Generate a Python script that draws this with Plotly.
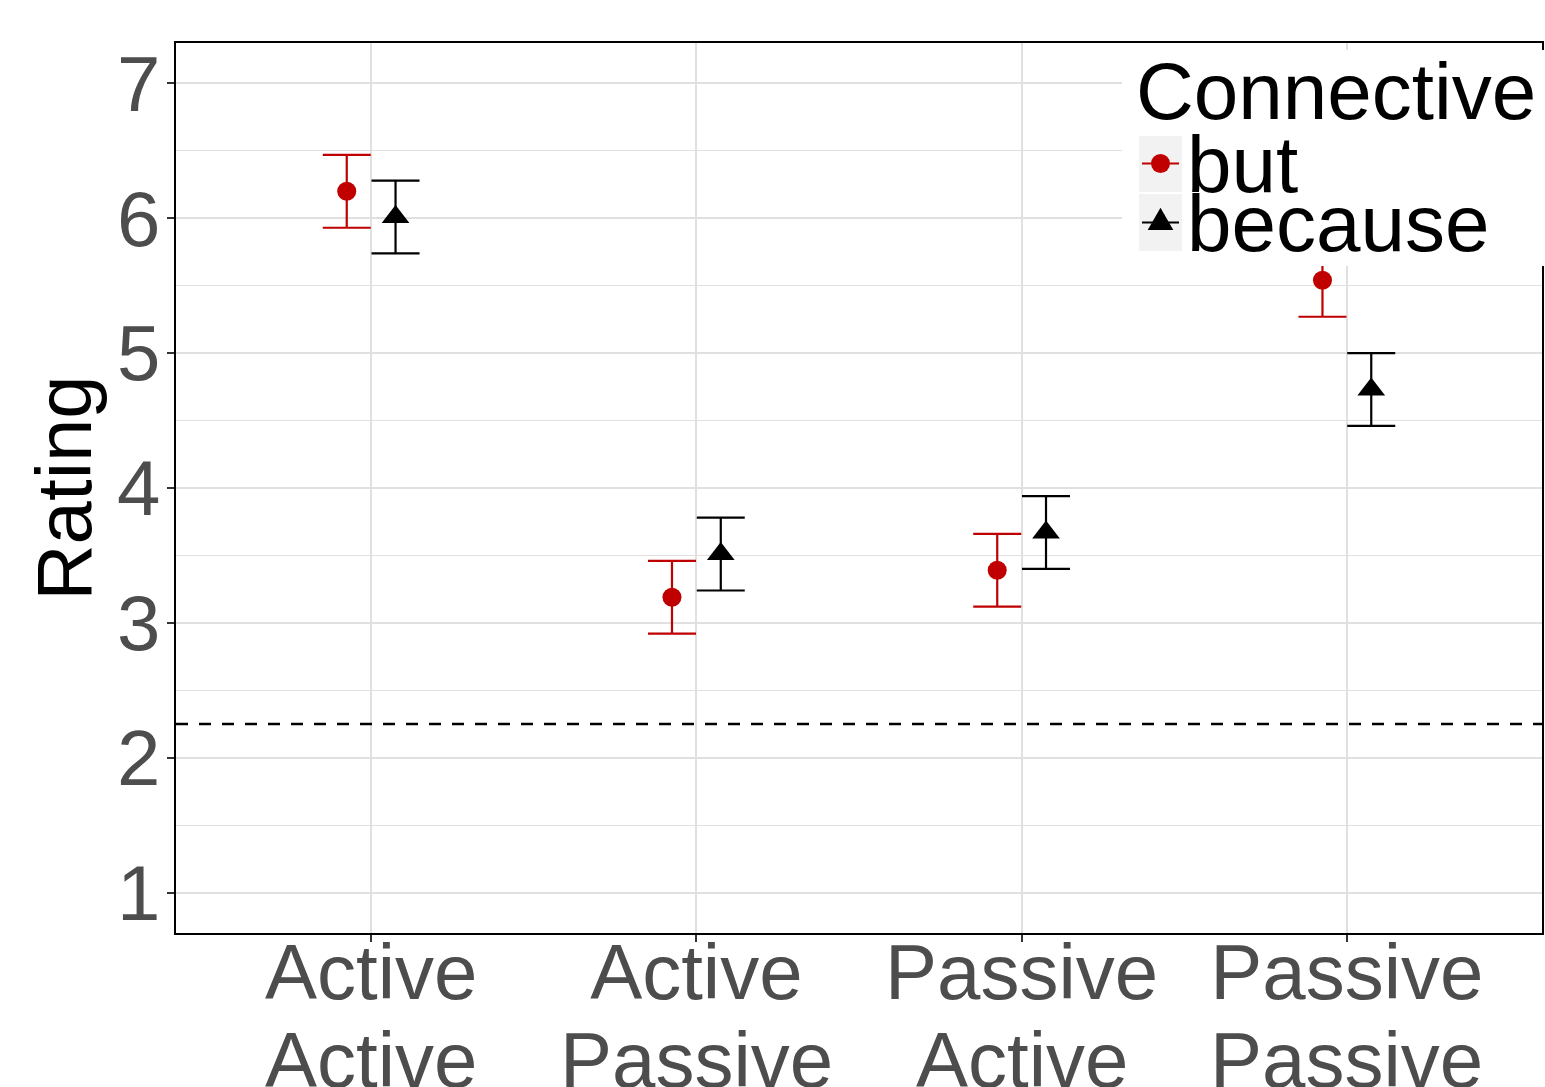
import plotly.graph_objects as go

# ---------------- data ----------------
cat_top = ["Active", "Active", "Passive", "Passive"]
cat_bottom = ["Active", "Passive", "Active", "Passive"]
categories = [f"{a} {b}" for a, b in zip(cat_top, cat_bottom)]

connectives = ["but", "because"]
but_mean = [6.20, 3.19, 3.39, 5.54]
but_ci = [0.27, 0.27, 0.27, 0.27]
because_mean = [6.01, 3.51, 3.67, 4.73]
because_ci = [0.27, 0.27, 0.27, 0.27]

y_ticks = [1, 2, 3, 4, 5, 6, 7]
y_range = [0.7, 7.3]
chance_level = 2.25
y_title = "Rating"
legend_title = "Connective"

# ---------------- style ----------------
W, H = 1545, 1087
ML, MR, MT, MB = 176, 3, 43, 154
PW, PH = W - ML - MR, H - MT - MB
FONT = "Liberation Sans, Arial, Helvetica, sans-serif"
RED = "#C00000"
BLACK = "#000000"
TICK_GREY = "#4D4D4D"
GRID = "#E0E0E0"
FS = 78
FS_LEG = 80


def px(xp):
    return (xp - ML) / PW


def py(yp):
    return (MT + PH - yp) / PH


fig = go.Figure()

series = [
    (connectives[0], but_mean, but_ci, RED, "circle", 19),
    (connectives[1], because_mean, because_ci, BLACK, "triangle-up", 24),
]
for name, mean, ci, col, sym, size in series:
    fig.add_trace(go.Scatter(
        x=categories, y=mean, name=name, mode="markers",
        marker=dict(symbol=sym, size=size, color=col, line=dict(width=0)),
        error_y=dict(type="data", array=ci, color=col, thickness=2.2, width=24),
        showlegend=False, cliponaxis=False,
    ))

shapes = [
    dict(type="line", xref="paper", x0=0, x1=1, yref="y",
         y0=chance_level, y1=chance_level,
         line=dict(color="black", width=2.5, dash="12px,11px"), layer="above"),
]

# ---- manual legend (ggplot-style, inside top-right) ----
shapes.append(dict(type="rect", xref="paper", yref="paper",
                   x0=px(1122), x1=px(1550), y0=py(50), y1=py(266),
                   fillcolor="white", line=dict(width=0), layer="above"))
key_rows = [(136, 192, 163.5), (194, 251, 222.5)]
for (ytop, ybot, yc), (name, _, _, col, sym, _) in zip(key_rows, series):
    shapes.append(dict(type="rect", xref="paper", yref="paper",
                       x0=px(1139), x1=px(1182), y0=py(ybot), y1=py(ytop),
                       fillcolor="#F2F2F2", line=dict(width=0), layer="above"))
    shapes.append(dict(type="line", xref="paper", yref="paper",
                       x0=px(1142), x1=px(1179), y0=py(yc), y1=py(yc),
                       line=dict(color=col, width=2.2), layer="above"))
    if sym == "circle":
        r = 9.5
        shapes.append(dict(type="circle", xref="paper", yref="paper",
                           x0=px(1160.5 - r), x1=px(1160.5 + r),
                           y0=py(yc + r), y1=py(yc - r),
                           fillcolor=col, line=dict(width=0), layer="above"))
    else:
        cx = 1160.5
        path = (f"M{px(cx - 12.8)},{py(yc + 7.4)} L{px(cx + 12.8)},{py(yc + 7.4)} "
                f"L{px(cx)},{py(yc - 14.8)} Z")
        shapes.append(dict(type="path", xref="paper", yref="paper", path=path,
                           fillcolor=col, line=dict(width=0), layer="above"))

annotations = [
    dict(text=legend_title, xref="paper", yref="paper", x=px(1134), y=py(91),
         xanchor="left", yanchor="middle", showarrow=False,
         font=dict(family=FONT, size=FS_LEG, color="black")),
]
for (ytop, ybot, yc), name in zip(key_rows, connectives):
    annotations.append(dict(text=name, xref="paper", yref="paper", x=px(1185),
                            y=py(yc + 0.5), xanchor="left", yanchor="middle",
                            showarrow=False,
                            font=dict(family=FONT, size=FS_LEG, color="black")))

# second line of the x tick labels
for c, b in zip(categories, cat_bottom):
    annotations.append(dict(text=b, xref="x", yref="paper", x=c, y=py(1060),
                            xanchor="center", yanchor="middle", showarrow=False,
                            font=dict(family=FONT, size=FS, color=TICK_GREY)))

axis_common = dict(
    showline=True, mirror=True, linecolor="black", linewidth=2,
    ticks="outside", ticklen=7, tickwidth=2, tickcolor="#333333",
    showgrid=True, gridcolor=GRID, gridwidth=1.5, zeroline=False,
    tickfont=dict(family=FONT, size=FS, color=TICK_GREY),
)

fig.update_layout(
    width=W, height=H,
    margin=dict(l=ML, r=MR, t=MT, b=MB, autoexpand=False),
    paper_bgcolor="white", plot_bgcolor="white",
    scattermode="group", scattergap=0.7,
    xaxis=dict(type="category", categoryorder="array", categoryarray=categories,
               range=[-0.6, len(categories) - 0.4],
               tickvals=categories, ticktext=cat_top, ticklabelstandoff=-37,
               **axis_common),
    yaxis=dict(range=y_range, tickvals=y_ticks, ticktext=[str(t) for t in y_ticks],
               ticklabelstandoff=-9,
               minor=dict(dtick=0.5, tick0=0, showgrid=True, gridcolor=GRID,
                          gridwidth=1.2, ticks=""),
               title=dict(text=y_title, standoff=0,
                          font=dict(family=FONT, size=FS, color="black")),
               **axis_common),
    shapes=shapes,
    annotations=annotations,
    showlegend=False,
    font=dict(family=FONT),
)

fig.write_html(
    "out.html",
    config={"displayModeBar": False},
    post_script="document.body.style.margin='0px';document.body.style.overflow='hidden';",
)
